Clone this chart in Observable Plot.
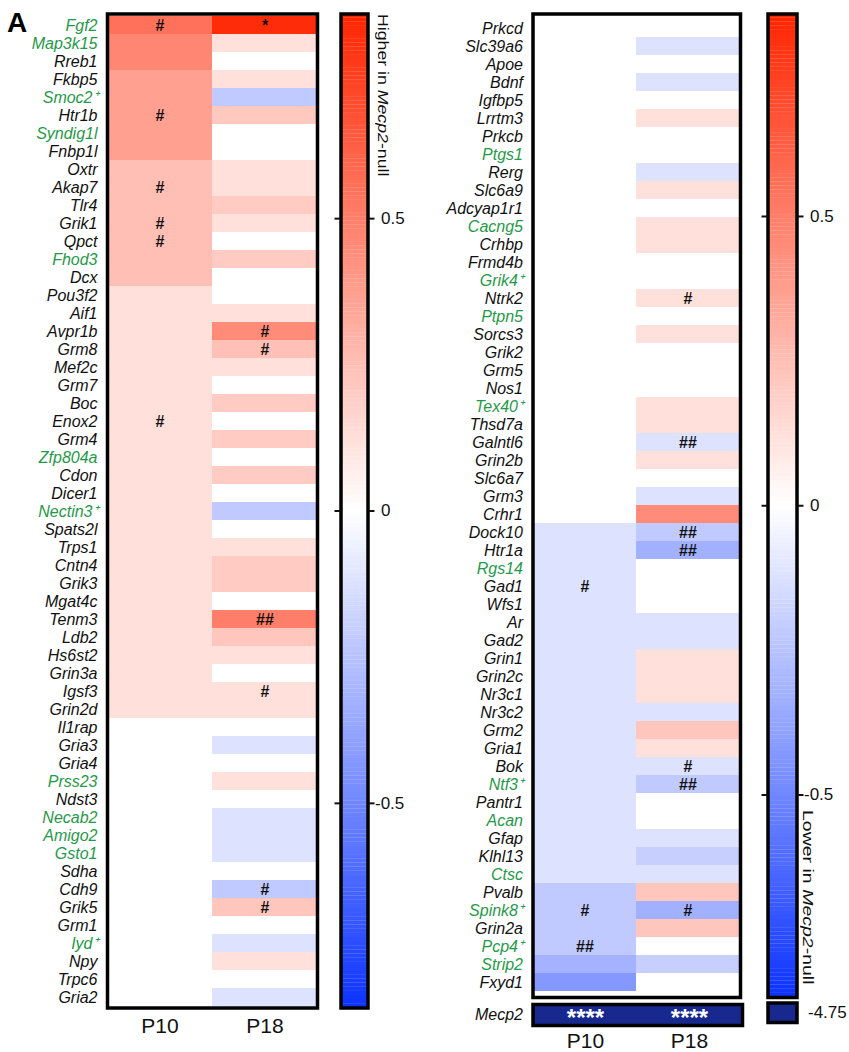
<!DOCTYPE html>
<html>
<head>
<meta charset="utf-8">
<script src="https://cdn.jsdelivr.net/npm/d3@7"></script>
<script src="https://cdn.jsdelivr.net/npm/@observablehq/plot@0.6"></script>
<style>
  html, body { margin: 0; padding: 0; background: #fff; }
  #root { position: relative; width: 849px; height: 1052px; font-family: "Liberation Sans", Arial, sans-serif; }
  #root > svg, #root > div.p { position: absolute; }
  .vtxt { position: absolute; writing-mode: vertical-rl; font-size: 15px; line-height: 15px; color: #111; white-space: nowrap; font-family: "Liberation Sans", Arial, sans-serif; transform-origin: 0 0; }
  .panel { position: absolute; font-weight: bold; font-size: 28px; font-family: "Liberation Sans", Arial, sans-serif; }
</style>
</head>
<body>
<div id="root"></div>
<script>
// ---------- DATA ----------
const ages = ["P10", "P18"];

const leftGenes = ["Fgf2","Map3k15","Rreb1","Fkbp5","Smoc2","Htr1b","Syndig1l","Fnbp1l","Oxtr","Akap7","Tlr4","Grik1","Qpct","Fhod3","Dcx","Pou3f2","Aif1","Avpr1b","Grm8","Mef2c","Grm7","Boc","Enox2","Grm4","Zfp804a","Cdon","Dicer1","Nectin3","Spats2l","Trps1","Cntn4","Grik3","Mgat4c","Tenm3","Ldb2","Hs6st2","Grin3a","Igsf3","Grin2d","Il1rap","Gria3","Gria4","Prss23","Ndst3","Necab2","Amigo2","Gsto1","Sdha","Cdh9","Grik5","Grm1","Iyd","Npy","Trpc6","Gria2"];
const leftP10 = [0.55,0.47,0.47,0.37,0.37,0.37,0.37,0.37,0.25,0.25,0.25,0.25,0.25,0.25,0.25,0.12,0.12,0.12,0.12,0.12,0.12,0.12,0.12,0.12,0.12,0.12,0.12,0.12,0.12,0.12,0.12,0.12,0.12,0.12,0.12,0.12,0.12,0.12,0.12,0,0,0,0,0,0,0,0,0,0,0,0,0,0,0,0];
const leftP18 = [0.82,0.12,0,0.12,-0.22,0.21,0,0,0.12,0.12,0.2,0.12,0,0.2,0,0,0.12,0.45,0.24,0.12,0,0.2,0,0.2,0,0.2,0,-0.22,0,0.12,0.2,0.2,0,0.5,0.22,0.12,0,0.12,0.12,0,-0.12,0,0.12,0,-0.12,-0.12,-0.12,0,-0.22,0.22,0,-0.12,0.12,0,-0.12];
const leftSigP10 = ["#","","","","","#","","","","#","","#","#","","","","","","","","","","#","","","","","","","","","","","","","","","","","","","","","","","","","","","","","","","",""];
const leftSigP18 = ["*","","","","","","","","","","","","","","","","","#","#","","","","","","","","","","","","","","","##","","","","#","","","","","","","","","","","#","#","","","","",""];

const rightGenes = ["Prkcd","Slc39a6","Apoe","Bdnf","Igfbp5","Lrrtm3","Prkcb","Ptgs1","Rerg","Slc6a9","Adcyap1r1","Cacng5","Crhbp","Frmd4b","Grik4","Ntrk2","Ptpn5","Sorcs3","Grik2","Grm5","Nos1","Tex40","Thsd7a","Galntl6","Grin2b","Slc6a7","Grm3","Crhr1","Dock10","Htr1a","Rgs14","Gad1","Wfs1","Ar","Gad2","Grin1","Grin2c","Nr3c1","Nr3c2","Grm2","Gria1","Bok","Ntf3","Pantr1","Acan","Gfap","Klhl13","Ctsc","Pvalb","Spink8","Grin2a","Pcp4","Strip2","Fxyd1"];
const rightP10 = [0,0,0,0,0,0,0,0,0,0,0,0,0,0,0,0,0,0,0,0,0,0,0,0,0,0,0,0,-0.12,-0.12,-0.12,-0.12,-0.12,-0.12,-0.12,-0.12,-0.12,-0.12,-0.12,-0.12,-0.12,-0.12,-0.12,-0.12,-0.12,-0.12,-0.12,-0.12,-0.22,-0.22,-0.22,-0.22,-0.32,-0.43];
const rightP18 = [0,-0.12,0,-0.12,0,0.12,0,0,-0.12,0.12,0,0.12,0.12,0,0,0.12,0,0.12,0,0,0,0.12,0.12,-0.12,0.12,0,-0.12,0.45,-0.22,-0.33,0,0,0,-0.12,-0.12,0.12,0.12,0.12,-0.12,0.22,0.12,-0.12,-0.22,0,0,-0.12,-0.2,-0.12,0.22,-0.33,0.22,0,-0.2,0];
const rightSigP10 = ["","","","","","","","","","","","","","","","","","","","","","","","","","","","","","","","#","","","","","","","","","","","","","","","","","","#","","##","",""];
const rightSigP18 = ["","","","","","","","","","","","","","","","#","","","","","","","","##","","","","","##","##","","","","","","","","","","","","#","##","","","","","","","#","","","",""];

const greenGenes = ["Fgf2","Map3k15","Smoc2","Syndig1l","Fhod3","Zfp804a","Nectin3","Prss23","Necab2","Amigo2","Gsto1","Iyd","Ptgs1","Cacng5","Grik4","Ptpn5","Tex40","Rgs14","Ntf3","Acan","Ctsc","Spink8","Pcp4","Strip2"];
const plusGenes = ["Smoc2","Nectin3","Iyd","Grik4","Tex40","Ntf3","Spink8","Pcp4"];

const mecp2Gene = ["Mecp2"];
const mecp2Values = [-4.75, -4.75];
const mecp2Sig = ["****", "****"];

const colorbarTicks = [-0.5, 0, 0.5];
const colorDomain = [-0.85, 0, 0.85];
const outOfRangeLabel = ["-4.75"];
const leftBarTitle = ["Higher in ", "Mecp2", "-null"];
const rightBarTitle = ["Lower in ", "Mecp2", "-null"];

// ---------- STYLE ----------
const FONT = "Liberation Sans, Arial, sans-serif";
const GREEN = "#1f9a48";
const NAVY = "#17298e";
const colorScale = {type: "linear", domain: colorDomain, range: ["#0c33ff", "#ffffff", "#ff2400"], interpolate: "rgb", clamp: true};

const root = document.getElementById("root");
function place(el, left, top) { el.style.left = left + "px"; el.style.top = top + "px"; root.appendChild(el); }

function tidy(genes, p10, p18, s10, s18) {
  return genes.flatMap((g, i) => [
    {gene: g, age: ages[0], value: p10[i], sig: s10[i]},
    {gene: g, age: ages[1], value: p18[i], sig: s18[i]}
  ]);
}
const labelOf = g => plusGenes.includes(g) ? g + "\u207A" : g;

function heatmap(genes, cells, opts) {
  return Plot.plot({
    width: opts.width, height: opts.height,
    marginLeft: opts.ml, marginRight: opts.mr, marginTop: opts.mt, marginBottom: opts.mb,
    style: {fontFamily: FONT, background: "transparent"},
    x: {domain: ages, padding: 0, axis: null},
    y: {domain: genes, padding: 0, axis: null},
    color: colorScale,
    marks: [
      Plot.cell(cells, {x: "age", y: "gene", fill: "value"}),
      Plot.text(cells.filter(d => d.sig), {x: "age", y: "gene", text: "sig", fontSize: 16, fontWeight: "bold", fill: "#111"}),
      Plot.text(genes.filter(g => !greenGenes.includes(g)), {y: d => d, text: labelOf, frameAnchor: "left", textAnchor: "end", dx: -10, fontSize: 16, fontStyle: "italic", fill: "#111"}),
      Plot.text(genes.filter(g => greenGenes.includes(g)), {y: d => d, text: labelOf, frameAnchor: "left", textAnchor: "end", dx: -10, fontSize: 16, fontStyle: "italic", fill: GREEN}),
      Plot.frame({stroke: "#000", strokeWidth: 3.5}),
      ...(opts.xaxis ? [Plot.axisX({tickSize: 0, tickPadding: 10, fontSize: 21, fill: "#111", label: null})] : [])
    ]
  });
}

// Left heatmap
const leftCells = tidy(leftGenes, leftP10, leftP18, leftSigP10, leftSigP18);
place(heatmap(leftGenes, leftCells, {width: 330, height: 1052, ml: 107, mr: 13, mt: 13.5, mb: 44.5, xaxis: true}), 0, 0);

// Right heatmap
const rightCells = tidy(rightGenes, rightP10, rightP18, rightSigP10, rightSigP18);
place(heatmap(rightGenes, rightCells, {width: 330, height: 1052, ml: 112.5, mr: 10, mt: 13.5, mb: 55, xaxis: false}), 420, 0);

// Mecp2 row
const mecpCells = ages.map((a, i) => ({gene: mecp2Gene[0], age: a, value: mecp2Values[i], sig: mecp2Sig[i]}));
place(Plot.plot({
  width: 330, height: 62, marginLeft: 112.5, marginRight: 8, marginTop: 14, marginBottom: 27,
  style: {fontFamily: FONT, background: "transparent"},
  x: {domain: ages, padding: 0, axis: null},
  y: {domain: mecp2Gene, padding: 0, axis: null},
  marks: [
    Plot.cell(mecpCells, {x: "age", y: "gene", fill: NAVY}),
    Plot.text(mecpCells, {x: "age", y: "gene", text: "sig", fill: "#fff", fontSize: 24, fontWeight: "bold", dy: 3}),
    Plot.text(mecp2Gene, {y: d => d, text: d => d, frameAnchor: "left", textAnchor: "end", dx: -10, fontSize: 16, fontStyle: "italic", fill: "#111"}),
    Plot.frame({stroke: "#000", strokeWidth: 3.5}),
    Plot.axisX({tickSize: 0, tickPadding: 8, fontSize: 21, fill: "#111", label: null})
  ]
}), 420, 990);

// Colorbars
function colorbar(opts) {
  const n = 240;
  const lo = colorDomain[0], hi = colorDomain[2];
  const stops = d3.range(n).map(i => lo + (hi - lo) * i / n);
  const step = (hi - lo) / n;
  return Plot.plot({
    width: opts.width, height: 1052,
    marginLeft: opts.ml, marginRight: opts.mr, marginTop: 13.5, marginBottom: opts.mb,
    style: {fontFamily: FONT, background: "transparent"},
    x: {domain: [0, 1], axis: null},
    y: {domain: [lo, hi], axis: null},
    color: colorScale,
    marks: [
      Plot.rect(stops, {x1: 0, x2: 1, y1: d => d, y2: d => d + step * 1.05, fill: d => d + step / 2}),
      Plot.frame({stroke: "#000", strokeWidth: 3.5}),
      Plot.axisY(colorbarTicks, {anchor: "left", tickSize: 6, tickFormat: () => "", strokeWidth: 2, stroke: "#111", label: null}),
      Plot.axisY(colorbarTicks, {anchor: "right", tickSize: 6, strokeWidth: 2, stroke: "#111", tickPadding: 7, fontSize: 17, fill: "#111", label: null,
        tickFormat: d => d < 0 ? "" : String(d)}),
      Plot.text(colorbarTicks.filter(d => d < 0), {y: d => d, text: d => String(d).replace("\u2212", "-"), frameAnchor: "right", textAnchor: "start", dx: 7, fontSize: 17, fill: "#111"})
    ]
  });
}
place(colorbar({width: 100, ml: 10.5, mr: 62.5, mb: 44.5}), 330, 0);
place(colorbar({width: 94, ml: 12.5, mr: 52.5, mb: 55}), 755, 0);

// out-of-range swatch (-4.75)
place(Plot.plot({
  width: 94, height: 62, marginLeft: 12.5, marginRight: 52.5, marginTop: 12.5, marginBottom: 30,
  style: {fontFamily: FONT, background: "transparent"},
  x: {domain: mecp2Gene, padding: 0, axis: null},
  y: {domain: outOfRangeLabel, padding: 0, axis: null},
  marks: [
    Plot.cell(outOfRangeLabel, {x: () => mecp2Gene[0], y: d => d, fill: NAVY}),
    Plot.frame({stroke: "#000", strokeWidth: 3.5}),
    Plot.axisY({anchor: "right", tickSize: 0, tickPadding: 11, fontSize: 17, fill: "#111", label: null})
  ]
}), 755, 990);

// rotated colorbar titles
function vtitle(parts, left, top, stretch) {
  const d = document.createElement("div");
  d.className = "vtxt";
  d.innerHTML = parts[0] + "<i>" + parts[1] + "</i>" + parts[2];
  d.style.transform = "scaleY(" + stretch + ")";
  place(d, left, top);
}
vtitle(leftBarTitle, 376, 14, 1.18);
vtitle(rightBarTitle, 801, 810, 1.3);

// panel letter
const A = document.createElement("div");
A.className = "panel";
A.textContent = "A";
place(A, 7, 7);
</script>
</body>
</html>
